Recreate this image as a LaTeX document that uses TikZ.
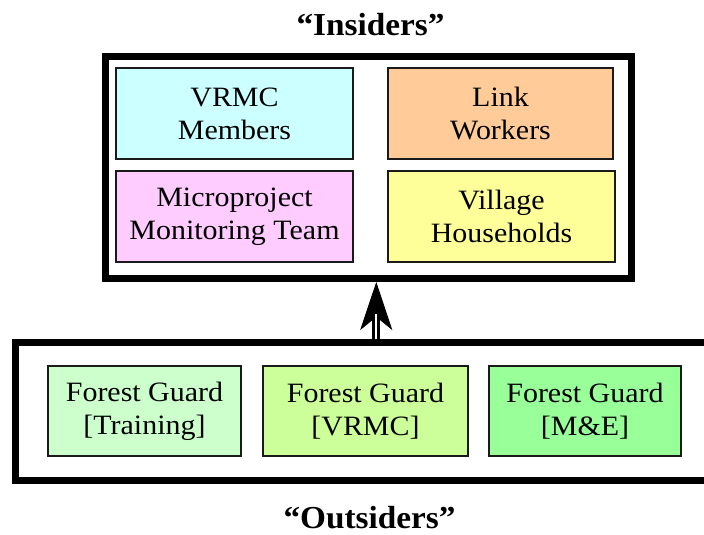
\documentclass[tikz,border=0pt]{standalone}
\usepackage{fontspec}
\setmainfont{Liberation Serif}[FakeStretch=1.07]
\newfontfamily\labelfont{Liberation Serif}[FakeStretch=1.04]
\usetikzlibrary{arrows.meta,positioning}

\definecolor{cvrmc}{HTML}{CCFFFF}
\definecolor{clink}{HTML}{FFCC99}
\definecolor{cmicro}{HTML}{FFCCFF}
\definecolor{cvill}{HTML}{FFFF99}
\definecolor{ctrain}{HTML}{CCFFCC}
\definecolor{cfgvrmc}{HTML}{CCFF99}
\definecolor{cme}{HTML}{99FF99}
\definecolor{edge}{HTML}{1A1A1A}

\tikzset{
  member/.style={draw=edge, line width=1.4pt, rectangle, align=center,
    inner sep=0pt, font=\fontsize{28}{33}\selectfont},
  group/.style={draw=black, line width=7pt, rectangle, inner sep=0pt, fill=white},
  grouplabel/.style={inner sep=0pt, font=\labelfont\fontsize{32}{36}\selectfont\bfseries},
}

\begin{document}
\begin{tikzpicture}[x=1pt,y=1pt]
  \useasboundingbox (0,0) rectangle (704,535);

  % containers
  \node[group, minimum width=525.5pt, minimum height=221.5pt] (insiders) at (368.25,367.25) {};
  \node[group, minimum width=710pt, minimum height=138pt] (outsiders) at (370.5,123) {};

  % insiders
  \node[member, fill=cvrmc, minimum width=237pt, minimum height=91pt] (vrmc) at (234.5,421.5) {VRMC\\Members};
  \node[member, fill=cmicro, minimum width=237pt, minimum height=91pt] (micro) at (234.5,318.5) {Microproject\\Monitoring Team};
  \node[member, fill=clink, minimum width=225pt, minimum height=91pt] (link) at (500.5,421.5) {Link\\Workers};
  \node[member, fill=cvill, minimum width=227pt, minimum height=91pt] (vill) at (501.5,318.5) {Village\\Households};

  % outsiders
  \node[member, fill=ctrain, minimum width=193pt, minimum height=90pt] (fgtrain) at (144.5,124) {Forest Guard\\{[Training]}};
  \node[member, fill=cfgvrmc, minimum width=205pt, minimum height=90pt] (fgvrmc) at (365.5,124) {Forest Guard\\{[VRMC]}};
  \node[member, fill=cme, minimum width=192pt, minimum height=90pt] (fgme) at (585,124) {Forest Guard\\{[M\&E]}};

  % titles
  \node[grouplabel] (tin) at (370.5,510) {“Insiders”};
  \node[grouplabel] (tout) at (369.5,17) {“Outsiders”};

  % upward arrow from outsiders to insiders: head first, double shaft on top
  \coordinate (abase) at ([xshift=8pt]insiders.south |- outsiders.north);
  \coordinate (atip) at ([xshift=8pt]insiders.south);
  \draw[-{Stealth[length=48pt,width=32pt,inset=13pt]}, line width=0.8pt]
    ([yshift=12pt]abase) -- (atip);
  \draw[double, double distance=2.4pt, line width=2.8pt] (abase) -- ([yshift=25pt]abase);
\end{tikzpicture}
\end{document}
